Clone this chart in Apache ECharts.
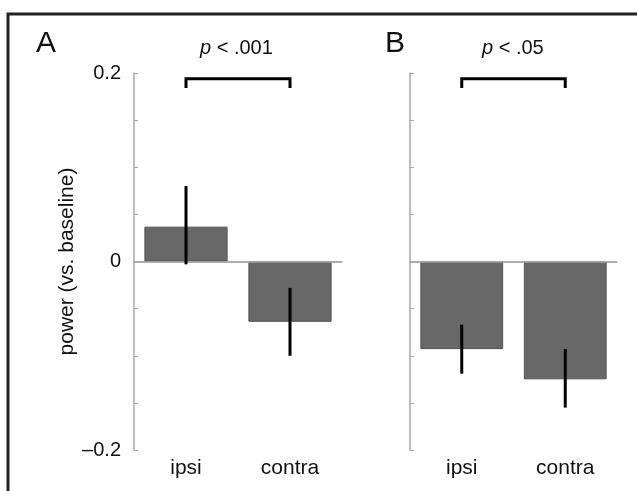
<!DOCTYPE html>
<html>
<head>
<meta charset="utf-8">
<script src="https://cdn.jsdelivr.net/npm/echarts@6/dist/echarts.min.js"></script>
<style>
  html, body { margin: 0; padding: 0; background: #fff; }
  #chart { width: 637px; height: 491px; }
</style>
</head>
<body>
<div id="chart"></div>
<script>
// data
const categories = ['ipsi', 'contra'];
const powerA = [0.037, -0.064];
const powerB = [-0.093, -0.125];
// error bars [low, high]
const errA = [[-0.003, 0.08], [-0.1, -0.028]];
const errB = [[-0.119, -0.067], [-0.155, -0.093]];
// significance brackets: [from, to, top, drop]
const bracketA = [0, 1, 0.194, 0.184];
const bracketB = [0, 1, 0.194, 0.184];
const pTextA = '.001';
const pTextB = '.05';
const yTicks = [-0.2, 0, 0.2];

const font = 'Liberation Sans, Arial, Helvetica, sans-serif';
const axisGray = '#a8a8a8';

let chart = echarts.init(document.getElementById('chart'));

function errItem(params, api) {
    let x = api.value(0);
    let lo = api.coord([x, api.value(1)]);
    let hi = api.coord([x, api.value(2)]);
    return {
        type: 'line',
        shape: { x1: lo[0], y1: lo[1], x2: hi[0], y2: hi[1] },
        style: { stroke: '#000', lineWidth: 3 }
    };
}

function bracketItem(params, api) {
    let a = api.coord([api.value(0), api.value(2)]);
    let b = api.coord([api.value(1), api.value(2)]);
    let d = api.coord([api.value(0), api.value(3)]);
    return {
        type: 'polyline',
        shape: { points: [[a[0], d[1]], [a[0], a[1]], [b[0], b[1]], [b[0], d[1]]] },
        style: { stroke: '#000', lineWidth: 3, fill: null }
    };
}

function xAxis(idx) {
    return {
        type: 'category',
        gridIndex: idx,
        data: categories,
        boundaryGap: true,
        axisLine: { lineStyle: { color: axisGray, width: 1.5 } },
        axisTick: { inside: true, alignWithLabel: true, length: 4, lineStyle: { color: axisGray } },
        axisLabel: { color: '#111', fontSize: 21, fontFamily: font, margin: 8 }
    };
}

function yAxis(idx, showLabels) {
    return {
        type: 'value',
        gridIndex: idx,
        min: -0.2,
        max: 0.2,
        interval: 0.05,
        name: showLabels ? 'power (vs. baseline)' : '',
        nameLocation: 'middle',
        nameGap: 53,
        nameTextStyle: { color: '#111', fontSize: 21, fontFamily: font },
        axisLine: { show: true, lineStyle: { color: axisGray, width: 1.5 } },
        axisTick: { show: true, inside: true, length: 4, lineStyle: { color: axisGray } },
        splitLine: { show: false },
        axisLabel: {
            show: showLabels,
            color: '#111',
            fontSize: 20,
            fontFamily: font,
            margin: 13,
            formatter: function (v) {
                let hit = yTicks.find(t => Math.abs(t - v) < 1e-9);
                if (hit === undefined) return '';
                if (hit === 0) return '0';
                return (hit < 0 ? '\u2013' : '') + Math.abs(hit).toString();
            }
        }
    };
}

function barSeries(idx, values) {
    return {
        type: 'bar',
        xAxisIndex: idx,
        yAxisIndex: idx,
        data: values,
        barWidth: '80%',
        itemStyle: { color: '#686868', borderColor: '#555', borderWidth: 1 },
        markLine: {
            silent: true,
            symbol: 'none',
            label: { show: false },
            lineStyle: { color: axisGray, width: 1.5, type: 'solid' },
            data: [{ yAxis: 0 }]
        },
        z: 2
    };
}

function errSeries(idx, errs) {
    return {
        type: 'custom',
        xAxisIndex: idx,
        yAxisIndex: idx,
        renderItem: errItem,
        data: errs.map((e, i) => [i, e[0], e[1]]),
        z: 5
    };
}

function bracketSeries(idx, br) {
    return {
        type: 'custom',
        xAxisIndex: idx,
        yAxisIndex: idx,
        renderItem: bracketItem,
        clip: false,
        data: [br],
        z: 5
    };
}

function pLabel(x, val) {
    return {
        type: 'text',
        left: x,
        top: 38,
        style: {
            text: '{i|p} < ' + val,
            font: '20px ' + font,
            fill: '#111',
            rich: { i: { fontStyle: 'italic', fontSize: 20, fontFamily: font } }
        }
    };
}

let option = {
    backgroundColor: '#fff',
    animation: false,
    grid: [
        { left: 134, top: 73, width: 208, height: 377 },
        { left: 410, top: 73, width: 207, height: 377 }
    ],
    xAxis: [xAxis(0), xAxis(1)],
    yAxis: [yAxis(0, true), yAxis(1, false)],
    series: [
        barSeries(0, powerA),
        errSeries(0, errA),
        bracketSeries(0, bracketA),
        barSeries(1, powerB),
        errSeries(1, errB),
        bracketSeries(1, bracketB)
    ],
    graphic: [
        {
            type: 'polyline',
            shape: { points: [[8, 500], [8, 14], [645, 14]] },
            style: { stroke: '#222', lineWidth: 3, fill: null }
        },
        { type: 'text', left: 36, top: 29, style: { text: 'A', font: '30px ' + font, fill: '#111' } },
        { type: 'text', left: 385, top: 29, style: { text: 'B', font: '30px ' + font, fill: '#111' } },
        pLabel(200, pTextA),
        pLabel(482, pTextB)
    ]
};

chart.setOption(option);
</script>
</body>
</html>
